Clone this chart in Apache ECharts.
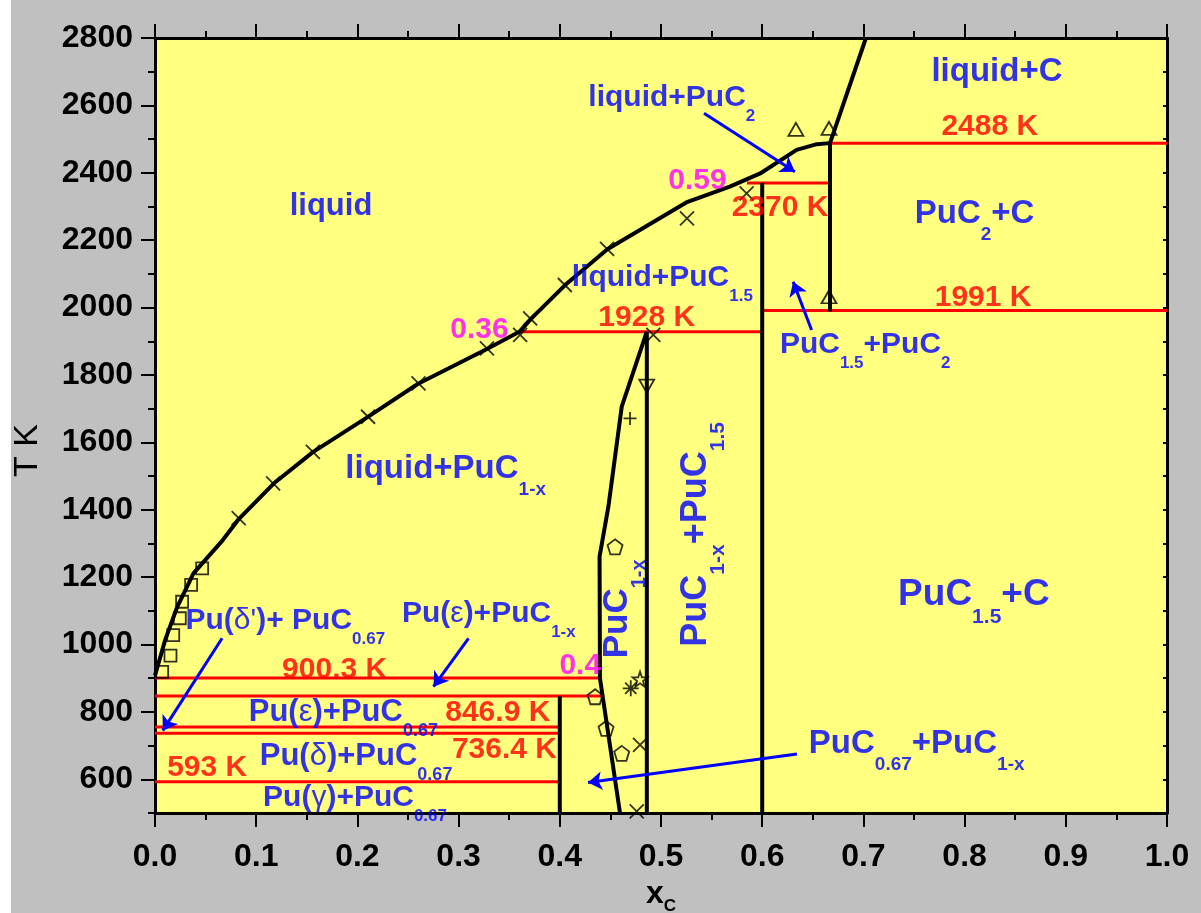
<!DOCTYPE html>
<html><head><meta charset="utf-8">
<script src="https://cdn.jsdelivr.net/npm/echarts@6/dist/echarts.min.js"></script>
<style>html,body{margin:0;padding:0;background:#fff;}#c{position:absolute;left:11px;top:0;width:1190px;height:913px;}</style>
</head><body><div id="c"></div>
<script>
// ---------- data ----------
const xTicks = [0, 0.1, 0.2, 0.3, 0.4, 0.5, 0.6, 0.7, 0.8, 0.9, 1.0];
const yMajor = [600, 800, 1000, 1200, 1400, 1600, 1800, 2000, 2200, 2400, 2600, 2800];

const liquidus = [[0,908],[0.010,1013],[0.022,1112],[0.038,1211],[0.067,1310],[0.083,1373],[0.117,1477],[0.156,1571],[0.210,1675],[0.260,1774],[0.328,1877],[0.360,1928],[0.372,1968],[0.405,2066],[0.447,2173],[0.525,2312],[0.568,2359],[0.598,2398],[0.634,2468],[0.654,2485],[0.667,2488]];
const carbonLiquidus = [[0.667,2488],[0.7025,2800]];
const puc2Line = [[0.667,1988],[0.667,2488]];
const puc15Line = [[0.6,500],[0.6,2370]];
const puc1xLeft = [[0.4595,500],[0.4397,900],[0.4393,1261],[0.448,1409],[0.4612,1706],[0.4859,1928]];
const puc1xRight = [[0.486,500],[0.486,1928]];
const puc067Line = [[0.4,500],[0.4,847]];

const isoT    = [2488, 2370, 1991, 1928, 900.3, 846.9, 755, 736.4, 593];
const isoFrom = [0.667, 0.585, 0.6, 0.36, 0, 0, 0, 0, 0];
const isoTo   = [1.0, 0.667, 1.0, 0.6, 0.4397, 0.443, 0.4, 0.4, 0.4];

const squares  = [[0.0071,919],[0.0153,967],[0.018,1028],[0.0245,1078],[0.0268,1127],[0.0357,1177],[0.0466,1226]];
const crosses  = [[0.0827,1375],[0.1167,1478],[0.156,1572],[0.2105,1676],[0.2604,1775],[0.328,1879],[0.3608,1919],[0.3707,1968],[0.405,2067],[0.4467,2174],[0.5257,2265],[0.5846,2339],[0.4924,1919],[0.4793,702],[0.476,505]];
const triUp    = [[0.6333,2529],[0.666,2532],[0.666,2032]];
const triDown  = [[0.4859,1767]];
const plusPts  = [[0.4694,1671]];
const pentagons= [[0.4546,1290],[0.4349,845],[0.4457,751],[0.4612,677]];
const asterisks= [[0.4701,870]];
const stars    = [[0.4793,897]];

const arrowFrom = [[0.5425,2576.5],[0.6488,1933.4],[0.0663,1018.5],[0.3098,1018.5],[0.6343,675.1]];
const arrowTo   = [[0.6323,2403.2],[0.6306,2076.8],[0.0077,744.3],[0.2752,874.9],[0.4279,590.3]];

const blueText = ['{m|liquid}','{m|liquid+PuC}{s|2}','{m|liquid+PuC}{s|1.5}','{m|liquid+PuC}{s|1-x}','{m|liquid+C}',
  '{m|PuC}{s|2}{m|+C}','{m|PuC}{s|1.5}{m|+PuC}{s|2}','{m|PuC}{s|1.5}{m|+C}',
  "{m|Pu(}{g|δ'}{m|)+ PuC}{s|0.67}",'{m|Pu(}{g|ε}{m|)+PuC}{s|1-x}','{m|Pu(}{g|ε}{m|)+PuC}{s|0.67}',
  '{m|Pu(}{g|δ}{m|)+PuC}{s|0.67}','{m|Pu(}{g|γ}{m|)+PuC}{s|0.67}','{m|PuC}{s|0.67}{m|+PuC}{s|1-x}',
  '{m|PuC}{s|1-x}','{m|PuC}{s|1-x}{m|+PuC}{s|1.5}'];
const blueX = [0.1331,0.4282,0.4118,0.1881,0.7672,0.7507,0.6175,0.7343,0.0301,0.244,0.0926,0.1035,0.1068,0.6461,0.4399,0.5171];
const blueT = [2346.8,2668.2,2134,1571.4,2748.4,2328.1,1933.1,1203.7,1115,1134.8,843.4,714.6,590.8,755.3,959.1,993.6];
const blueSize = [31,30,30,33,33,33,30,37,30,30,31,31,30,33,35,36];
const blueRot  = [0,0,0,0,0,0,0,0,0,0,0,0,0,0,90,90];

const redText = ['2488 K','2370 K','1991 K','1928 K','900.3 K','846.9 K','736.4 K','593 K'];
const redX = [0.7771,0.5698,0.7705,0.4381,0.1256,0.2868,0.2934,0.012];
const redT = [2586,2346.5,2079.4,2020.1,976.7,847.9,739.3,684.6];

const magText = ['0.59','0.36','0.4'];
const magX = [0.5072,0.2917,0.3996];
const magT = [2427.8,1985.7,986.4];

// ---------- styles ----------
const FONT = '"Liberation Sans", Arial, sans-serif';
const BLUE = '#0000FF', RED = '#FF0000', MAG = '#FF00FF';

function richFor(F, color) {
  const S = Math.round(F * 0.57);
  const L = F + 4;
  const d = F >= 35 ? 15 : (F >= 33 ? 14 : 12);
  const p = L / 2 + 0.3465 * F + d - 0.3465 * S - S / 2;
  const r = {};
  r['m' + F] = {fontSize: F, fontWeight: 'bold', fontFamily: FONT, color, lineHeight: L, verticalAlign: 'top'};
  r['g' + F] = {fontSize: F, fontWeight: 'normal', fontFamily: FONT, color, lineHeight: L, verticalAlign: 'top'};
  r['s' + F] = {fontSize: S, fontWeight: 'bold', fontFamily: FONT, color, lineHeight: S, verticalAlign: 'top', padding: [p, 0, 0, 0]};
  return r;
}
const blueRich = {};
[...new Set(blueSize)].forEach(F => Object.assign(blueRich, richFor(F, BLUE)));

const P_CROSS = 'path://M0,0L10,10M10,0L0,10';
const P_PLUS = 'path://M5,0L5,10M0,5L10,5';
const P_AST = 'path://M5,0L5,10M0,5L10,5M1.5,1.5L8.5,8.5M8.5,1.5L1.5,8.5';
const P_PENT = 'path://M5,0L9.755,3.455L7.939,9.045L2.061,9.045L0.245,3.455Z';
const P_STAR = 'path://M5,0L6.176,3.382L9.755,3.455L6.902,5.618L7.939,9.045L5,7L2.061,9.045L3.098,5.618L0.245,3.455L3.824,3.382Z';
const hollow = {color: 'transparent', borderColor: '#000', borderWidth: 1.8};

function curve(data) {
  return {type: 'line', data, symbol: 'none', z: 4, lineStyle: {color: '#000', width: 4, join: 'round'}, silent: true};
}
function marks(data, symbol, size, extra) {
  return Object.assign({type: 'scatter', data, symbol, symbolSize: size, itemStyle: hollow, z: 5, silent: true}, extra || {});
}

const series = [];
isoT.forEach((t, i) => series.push({type: 'line', data: [[isoFrom[i], t], [isoTo[i], t]], symbol: 'none', z: 3,
  lineStyle: {color: RED, width: 3}, silent: true}));
[liquidus, carbonLiquidus, puc2Line, puc15Line, puc1xLeft, puc1xRight, puc067Line].forEach(c => series.push(curve(c)));
series.push(marks(squares, 'rect', 12));
series.push(marks(crosses, P_CROSS, 14));
series.push(marks(triUp, 'triangle', [15, 13]));
series.push(marks(triDown, 'triangle', [15, 13], {symbolRotate: 180}));
series.push(marks(plusPts, P_PLUS, 13));
series.push(marks(pentagons, P_PENT, 15));
series.push(marks(asterisks, P_AST, 16));
series.push(marks(stars, P_STAR, 15));
series.push({type: 'lines', coordinateSystem: 'cartesian2d', z: 6, silent: true,
  symbol: ['none', 'arrow'], symbolSize: 14,
  lineStyle: {color: BLUE, width: 3, opacity: 1, curveness: 0},
  data: arrowFrom.map((f, i) => ({coords: [f, arrowTo[i]]}))});
series.push({type: 'scatter', z: 8, silent: true, symbolSize: 1, itemStyle: {color: 'transparent'},
  data: blueX.map((x, i) => ({value: [x, blueT[i]], label: {rotate: blueRot[i]}})),
  label: {show: true, position: 'inside', align: 'left', verticalAlign: 'top', rich: blueRich,
    formatter: p => blueText[p.dataIndex].replace(/\{(m|g|s)\|/g, (a, k) => '{' + k + blueSize[p.dataIndex] + '|')}});
series.push({type: 'scatter', z: 8, silent: true, symbolSize: 1, itemStyle: {color: 'transparent'},
  data: redX.map((x, i) => [x, redT[i]]),
  label: {show: true, position: 'inside', align: 'left', verticalAlign: 'top', fontSize: 30, lineHeight: 34,
    fontWeight: 'bold', fontFamily: FONT, color: RED, formatter: p => redText[p.dataIndex]}});
series.push({type: 'scatter', z: 8, silent: true, symbolSize: 1, itemStyle: {color: 'transparent'},
  data: magX.map((x, i) => [x, magT[i]]),
  label: {show: true, position: 'inside', align: 'left', verticalAlign: 'top', fontSize: 30, lineHeight: 34,
    fontWeight: 'bold', fontFamily: FONT, color: MAG, formatter: p => magText[p.dataIndex]}});

const axLine = {lineStyle: {color: '#000', width: 3}};
const tickStyle = {color: '#000', width: 2};

const option = {
  animation: false,
  backgroundColor: '#C0C0C0',
  grid: {left: 144, right: 34, top: 38, bottom: 100, show: true, backgroundColor: '#FFFF80', borderWidth: 0,
    containLabel: false, outerBoundsMode: 'none'},
  xAxis: [
    {type: 'value', position: 'bottom', min: xTicks[0], max: xTicks[xTicks.length - 1], interval: 0.1,
      axisLine: axLine, axisTick: {length: 14, lineStyle: tickStyle},
      minorTick: {show: true, splitNumber: 2, length: 7, lineStyle: tickStyle},
      splitLine: {show: false}, minorSplitLine: {show: false},
      axisLabel: {margin: 28, fontSize: 32, fontWeight: 'bold', color: '#000', fontFamily: FONT, formatter: v => v.toFixed(1)},
      name: '{x|x}{c|C}', nameLocation: 'middle', nameGap: 49,
      nameTextStyle: {rich: {
        x: {fontSize: 32, fontWeight: 'bold', fontFamily: FONT, color: '#000', lineHeight: 36, verticalAlign: 'top'},
        c: {fontSize: 17, fontWeight: 'bold', fontFamily: FONT, color: '#000', lineHeight: 17, verticalAlign: 'top', padding: [20, 0, 0, 0]}}}},
    {type: 'value', position: 'top', min: 0, max: 1, interval: 0.1,
      axisLine: axLine, axisTick: {length: 14, lineStyle: tickStyle},
      minorTick: {show: true, splitNumber: 2, length: 7, lineStyle: tickStyle},
      splitLine: {show: false}, minorSplitLine: {show: false}, axisLabel: {show: false}}
  ],
  yAxis: [
    {type: 'value', position: 'left', min: 500, max: 2800, interval: 100,
      axisLine: axLine, axisTick: {customValues: yMajor, length: 14, lineStyle: tickStyle},
      axisLabel: {customValues: yMajor, margin: 22, fontSize: 32, fontWeight: 'bold', color: '#000', fontFamily: FONT,
        formatter: v => String(v)},
      splitLine: {show: false},
      name: 'T K', nameLocation: 'middle', nameRotate: 90, nameGap: 110,
      nameTextStyle: {fontSize: 34, fontWeight: 'normal', fontFamily: FONT, color: '#000', padding: [0, 50, 0, 0]}},
    {type: 'value', position: 'left', min: 500, max: 2800, interval: 100,
      axisLine: {show: false}, axisTick: {length: 7, lineStyle: tickStyle}, axisLabel: {show: false}, splitLine: {show: false}},
    {type: 'value', position: 'right', min: 500, max: 2800, interval: 100,
      axisLine: axLine, axisTick: {inside: true, length: 4, lineStyle: tickStyle}, axisLabel: {show: false}, splitLine: {show: false}}
  ],
  series
};
const chart = echarts.init(document.getElementById('c'), null, {renderer: 'canvas'});
chart.setOption(option);
</script></body></html>
